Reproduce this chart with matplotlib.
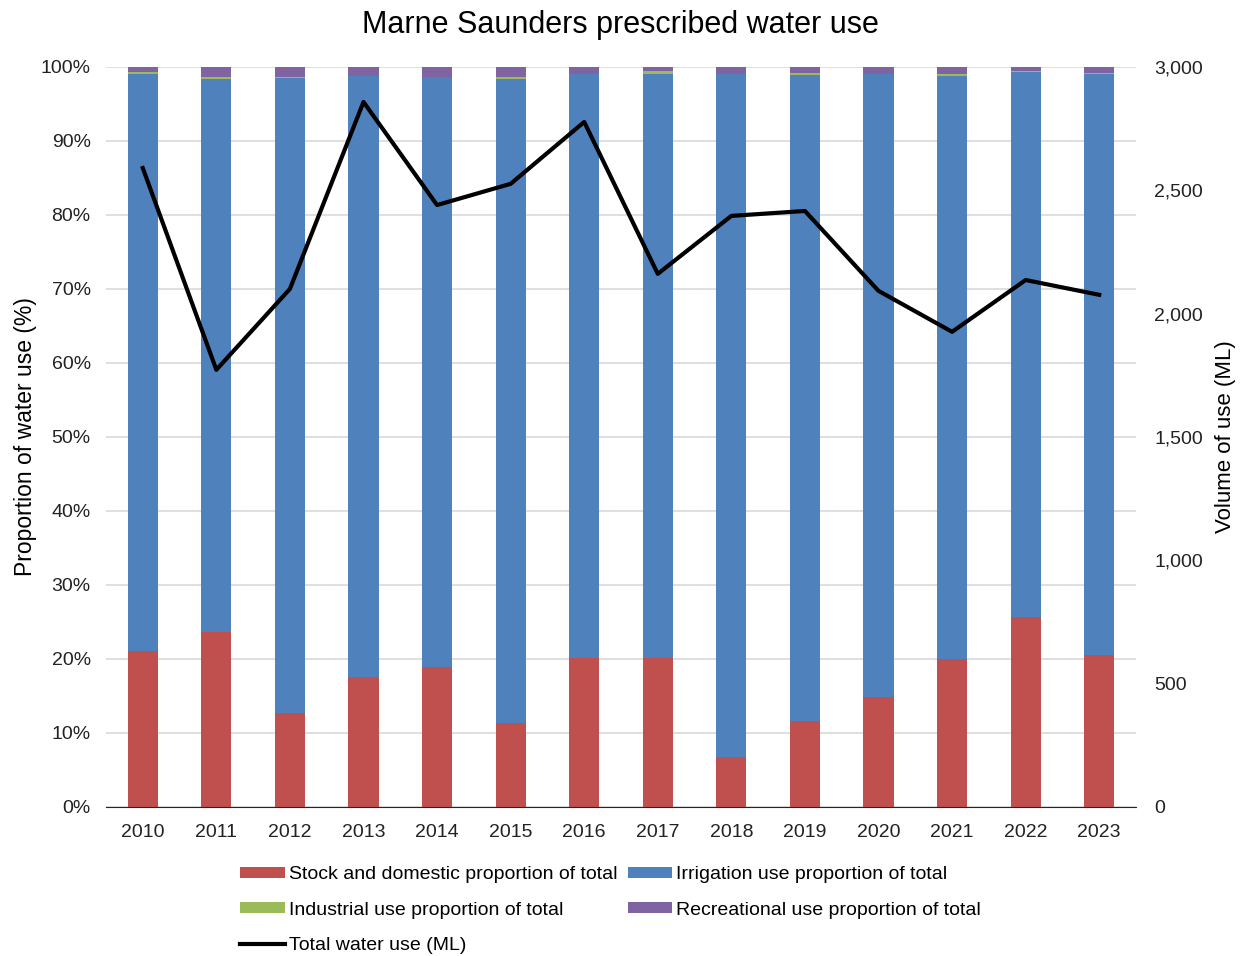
import matplotlib.pyplot as plt
import numpy as np
from matplotlib.ticker import FuncFormatter

plt.rcParams['font.family'] = ['Liberation Sans', 'DejaVu Sans']

# --- Daten ---
years = ['2010', '2011', '2012', '2013', '2014', '2015', '2016',
         '2017', '2018', '2019', '2020', '2021', '2022', '2023']
stock_domestic = [21.1, 23.6, 12.7, 17.6, 18.9, 11.4, 20.1,
                  20.1, 6.8, 11.6, 14.9, 20.0, 25.7, 20.5]
industrial = [0.2, 0.3, 0.2, 0.0, 0.0, 0.3, 0.0,
              0.3, 0.1, 0.3, 0.1, 0.3, 0.1, 0.1]
recreational = [0.7, 1.4, 1.3, 1.2, 1.3, 1.4, 0.9,
                0.6, 0.9, 0.8, 0.9, 0.9, 0.6, 0.8]
# Bewässerung = Rest bis 100 %
irrigation = [100 - s - i - r for s, i, r in zip(stock_domestic, industrial, recreational)]
total_use = [2590, 1772, 2100, 2858, 2440, 2526, 2777,
             2161, 2396, 2416, 2092, 1926, 2136, 2076]

RED = '#C0504D'
BLUE = '#4F81BD'
GREEN = '#9BBB59'
PURPLE = '#8064A2'

fig = plt.figure(figsize=(12.41, 9.56), dpi=100)
ax = fig.add_axes([0.0854, 0.156, 0.83, 0.774])
x = np.arange(len(years))
w = 0.41

bottom = np.zeros(len(years))
bars = []
for vals, col, lab in [(stock_domestic, RED, 'Stock and domestic proportion of total'),
                       (irrigation, BLUE, 'Irrigation use proportion of total'),
                       (industrial, GREEN, 'Industrial use proportion of total'),
                       (recreational, PURPLE, 'Recreational use proportion of total')]:
    b = ax.bar(x, vals, w, bottom=bottom, color=col, label=lab, zorder=2)
    bars.append(b)
    bottom += np.array(vals)

ax.set_ylim(0, 100)
ax.set_xlim(-0.5, len(years) - 0.5)
ax.set_yticks(np.arange(0, 101, 10))
ax.yaxis.set_major_formatter(FuncFormatter(lambda v, p: f'{int(v)}%'))
ax.set_xticks(x)
ax.set_xticklabels(years)
ax.grid(axis='y', color='#D9D9D9', linewidth=1.2, zorder=0)
ax.set_axisbelow(True)
for s in ['top', 'left', 'right']:
    ax.spines[s].set_visible(False)
ax.spines['bottom'].set_color('#262626')
ax.spines['bottom'].set_zorder(4)
ax.tick_params(axis='y', length=0, labelsize=14, colors='#222222', pad=11)
ax.tick_params(axis='x', length=0, labelsize=14, colors='#222222', pad=12)
ax.set_ylabel('Proportion of water use (%)', fontsize=16.5, labelpad=3)

# Gesamtverbrauch auf der rechten Achse
ax2 = ax.twinx()
line, = ax2.plot(x, total_use, color='black', linewidth=3, label='Total water use (ML)', zorder=3)
ax2.set_ylim(0, 3000)
ax2.set_yticks(np.arange(0, 3001, 500))
ax2.yaxis.set_major_formatter(FuncFormatter(lambda v, p: f'{int(v):,}'))
for s in ['top', 'left', 'right', 'bottom']:
    ax2.spines[s].set_visible(False)
ax2.tick_params(axis='y', length=0, labelsize=14, colors='#222222', pad=13)
ax2.set_ylabel('Volume of use (ML)', fontsize=16, labelpad=9)

fig.suptitle('Marne Saunders prescribed water use', fontsize=22, y=0.99)

# Legende: spaltenweise befüllt, damit die Zeilen passen
handles = [bars[0], bars[2], line, bars[1], bars[3]]
labels = [h.get_label() for h in handles]
fig.legend(handles, labels, ncol=2, loc='upper left', bbox_to_anchor=(0.1855, 0.104),
           frameon=False, fontsize=14, handlelength=2.3, handleheight=0.5,
           handletextpad=0.2, columnspacing=0.55, labelspacing=0.95, borderpad=0)

fig.savefig('out.png', dpi=100)
